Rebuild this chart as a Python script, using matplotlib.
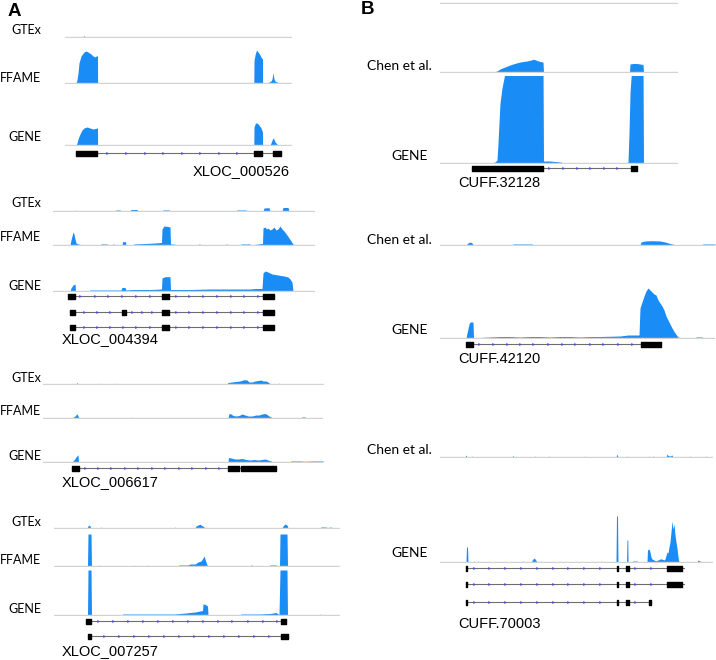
import numpy as np
import matplotlib
matplotlib.use('Agg')
from matplotlib import pyplot as plt

# coverage profiles: (position, depth), position in screen units
a1_gtex = [(65,0),(83,0),(84,1.5),(85,0),(292,0)]
a1_ffame = [(76,0),(77,3),(78,10),(79,20),(81,27),(84,31),(86,32),(88,31),(91,29),(93,27),(95,26),(96,27),(97.5,27),(97.6,0),
            (253.8,0),(254,22),(255,28),(256.5,33),(258,31),(260,28),(261.5,25),(262.5,24),(262.6,0),
            (268,0),(269,1),(271,2),(272,4),(273,10),(274,4),(275,2),(277,1),(278,0)]
a1_gene = [(76,0),(77,2),(78,6),(80,11),(82,15),(84,17),(87,18),(90,17),(93,16),(97.5,17),(97.6,0),
           (253.8,0),(254,18),(255.5,22),(257,22),(259,20),(261,17),(262.5,13),(262.6,0),
           (270,0),(271,2),(272.5,6),(273.5,7),(275,3),(277,1),(278,0)]

a2_gtex = [(53,0),(74,0),(75,1),(76,0),(115,0),(116,1),(120,1),(121,0),(130,0),(131,1.5),(137,1.5),(138,0),
           (162,0),(163,1),(169,1),(170,0),(236,0),(237,1),(246,1),(247,0),(263,0),(264,3),(269,3.3),(270,0),
           (282,0),(283,3.5),(288,3.5),(289,0),(315,0)]
a2_ffame = [(70,0),(71,5),(72,9),(73,13),(74,11),(75,6),(76,2),(78,1),(83,0),(100,0),(101,1),(107,1),(108,0),
            (112,0),(113,1),(117,0),(122,0),(122.5,3.3),(125.5,3.3),(126,0),(133,0),(134,1),(145,1.5),(155,2),
            (161.5,2.5),(162,16),(164,19),(167,18.7),(170,18),(170.5,1),(174,1),(175,0),(198,0),(199,1),(203,0),
            (225,0),(226,1),(230,0),(240,0),(241,1),(250,1),(251,0),(258,1),(262.5,1.5),(263,17),(265,18),
            (266.5,16),(268,17),(270,15),(272,16),(274,18),(276,15),(278,16),(280,19),(282,16),(284,14),
            (287,10),(289,7),(291,4),(293,1),(294,0)]
a2_gene = [(70,0),(71,3),(73,6),(75,7),(75.5,0),(89,0),(90,1),(121,1),(122,3.5),(125,3.5),(126,1),(133,1.5),
           (150,1.5),(161.5,2),(162,13),(165,14.3),(170,14.3),(170.5,1.5),(190,1.5),(210,2),(230,2),(250,2),
           (255,2.5),(262,2.5),(263,18),(265,20),(268,19),(272,17),(278,16),(284,15),(288,14),(290,12),
           (292,9),(293,0)]

a3_gtex = [(43,0),(76,0),(77,1.5),(78,0),(98,0),(98.5,1),(99,0),(114,0),(114.5,1),(115,0),(227,0),(228,1.5),
           (232,2),(236,2.5),(240,3),(244,4.3),(247,4),(249,2),(252,2),(255,3),(258,3.5),(261,4),(263,3),
           (266,3),(268,2),(270,0.5),(271,0),(278,0),(279,1),(280,0),(322,0),(323,1)]
a3_ffame = [(72,0),(75,2),(77,4.3),(78,2),(79,0),(131,0),(132,1),(133,0),(228,0),(229,4.5),(231,4),(233,2.5),
            (236,2),(239,2.5),(242,4),(245,3),(248,2),(252,2),(256,3),(259,3),(262,4),(265,4.5),(267,3.5),
            (269,2),(271,1),(272,0),(300,0),(302,1),(305,1),(306,0)]
a3_gene = [(72,0),(74,2),(76,5),(78,7.3),(78.5,0),(228,0),(228.5,4.5),(231,4),(235,3),(239,3),(242,3.5),
           (246,2.5),(250,2),(254,2.5),(258,2),(262,2.5),(265,3),(268,2),(271,1),(273,0),(290,0),(291,1),
           (300,1),(305,0.7),(312,1),(323,1)]

a4_gtex = [(54,0),(87,0),(88,2),(89,3),(90,2),(91,0),(100,0),(101,1),(102,0),(174,0),(175,1),(176,0),(195,0),
           (196,2),(198,3),(200,3.7),(202,2.5),(204,1),(205,0),(206,1),(207,0),(282,0),(283,2),(285,4),
           (287,3),(288,0),(320,0),(321,1),(325,1),(328,0.5),(331,1),(333,0)]
a4_ffame = [(87.5,0),(88,32),(91,32),(91.5,0),(99,0),(100,1),(101,0),(133,0),(134,1),(135,0),(146,0),(147,1),
            (148,0),(178,0),(179,1),(188,1),(190,2),(195,2),(198,4),(201,5),(203,8),(204,10),(205,7),(206,4),
            (207,1),(208,0),(250,0),(251,1),(255,0),(269,0),(270,1),(276,1),(277,0),(279.5,0),(280,32),
            (287,32),(287.5,0)]
a4_gene = [(87.5,0),(88,45),(91,45),(91.5,0),(122,0),(123,1),(150,1),(175,1),(180,1.5),(186,2),(190,2.5),
           (195,3),(200,4),(202.5,4.5),(203,11),(205,10.7),(207.5,9),(208,0),(240,0),(241,1),(260,1),
           (270,1.5),(276,2.5),(279,0.5),(280,45),(287,45),(287.5,0),(319,0),(320,1),(321,0)]

b1_top = [(440,0),(678,0)]
b1_chen = [(493,0),(497,1),(500,3),(505,5),(510,7),(513,8),(518,9.5),(523,10.5),(527,11),(531,12),(534,12.7),
           (537,11.5),(540,10.5),(543,10),(543.5,0),(629.5,0),(630,8),(633,8.5),(637,8.5),(640,8),(643,7.5),
           (643.5,0)]
b1_gene = [(492,0),(495,1),(497,3),(498,20),(499,40),(500,60),(502,75),(504,85),(506,95),(510,100),(543,100),
           (543.5,2),(550,2),(560,1),(566,0),(626,0),(628,1),(629,30),(630,70),(631,85),(632,95),(634,100),
           (643,100),(643.5,0)]

b2_chen = [(466,0),(468,2),(470,3),(472,2),(473,0),(512,0),(513,1),(532,1),(533,0),(640,0),(641,3),(645,4),
           (652,4.3),(660,4),(665,3),(670,1.5),(674,0.5),(676,0),(702,0),(703,1),(715,1)]
b2_gene = [(466,0),(467,5),(469,14),(470,16),(473,16),(473.5,0.5),(480,0.5),(490,1),(500,1.5),(510,1.5),
           (520,1),(530,1.5),(540,1.5),(550,1),(560,1.5),(570,1.5),(580,1),(590,1.5),(600,1.5),(620,2),
           (628,3),(635,3),(639,3),(640,30),(642,36),(644,42),(646,47),(648,50),(650,48),(652,46),(654,44),
           (656,43),(658,38),(660,35),(662,32),(664,28),(666,22),(668,18),(670,14),(672,10),(675,5),(678,1),
           (680,0),(695,0),(696,1),(702,1),(703,0)]

b3_chen = [(465,0),(466,2),(467,0),(471,0),(472,1),(473,0),(512,0),(513,1.5),(514,0),(534,0),(535,1),(536,0),
           (548,0),(549,1),(550,0),(584,0),(585,1),(586,0),(616,0),(617,3),(618,0),(626,0),(627,1),(628,0),
           (648,0),(649,1),(650,0),(652,0),(653,1),(654,0),(666,0),(667,3),(668,1.5),(670,1),(672,2),(673,0),
           (689,0),(690,1),(691,0),(705,0),(706,1),(707,0)]
b3_gene = [(466,0),(466.5,15),(467.5,15),(468,0),(473,0),(474,1),(475,0),(477,0),(478,1),(479,0),(522,0),
           (523,1),(524,0),(531,0),(533,3),(534,4),(535,3),(537,0),(540,0),(541,1),(542,0),(600,0),(601,1),
           (602,0),(616,0),(616.5,46),(617.5,46),(618,0),(626.5,0),(627,22),(627.8,22),(628,0),(632,0),
           (633,1),(637,1),(638,0),(647,0),(647.5,12),(649,13),(650,10),(651,5),(652,3),(654,2),(656,1),
           (658,2),(660,3),(662,3),(664,2),(665,3),(667,10),(668,9),(669,15),(670,20),(671,30),(672,41),
           (673,33),(674,38),(675,27),(676,20),(677,14),(678,5),(679,0),(697,0),(698,2),(700,1),(701,0)]

# transcripts: (start, end, exons, strand arrows)
a1_tx = [(76, 281, [(76,97),(254,262),(273,281)], [107,126,145,163,182,200,219,237])]
a2_tx = [(68, 274, [(68,75),(162,169),(263,274)], [80,95,108,122,136,150,176,189,203,217,231,244,258]),
         (70, 274, [(70,75),(122,126),(162,169),(263,274)], [84,97,110,132,142,152,176,189,203,217,231,244,258]),
         (70, 274, [(70,75),(162,169),(263,274)], [84,97,110,123,136,150,176,189,203,217,231,244,258])]
a3_tx = [(72, 276, [(72,79),(228,239),(241,276)], [85,98,111,125,138,152,165,179,192,206,219])]
a4_tx = [(86, 286, [(86,91),(281,286)], [98,113,128,143,158,173,188,203,218,232,248,263,277]),
         (88, 288, [(88,91),(281,288)], [104,119,134,149,164,179,194,209,224,239,254,269])]
b1_tx = [(472, 637, [(472,543),(631,637)], [549,563,577,590,604,617])]
b2_tx = [(466, 661, [(466,473),(641,661)], [479,493,507,520,533,548,562,575,590,603,618,632])]
b3_tx = [(466, 684, [(466,467),(616.5,617.5),(626,627),(628,629),(667,682)], [474,489,505,521,537,553,568,584,600,635,651]),
         (466, 684, [(466,467),(616.5,617.5),(626,627),(628,629),(667,682)], [474,489,505,521,537,553,568,584,600,635,651]),
         (466, 650, [(466,467),(616.5,617.5),(626,627),(628,629),(649,650.5)], [474,489,505,521,537,553,568,584,600,635])]

a_names = ['GTEx', 'FFAME', 'GENE']
b_names = ['Chen et al.', 'GENE']
a_ids = ['XLOC_000526', 'XLOC_004394', 'XLOC_006617', 'XLOC_007257']
b_ids = ['CUFF.32128', 'CUFF.42120', 'CUFF.70003']

W, H = 716, 660
BLUE = '#1a8cf6'
BASE = '#d2d2d2'

fig = plt.figure(figsize=(7.16, 6.6), dpi=100)

def rect(x0, y0, x1, y1):
  return [x0/W, 1 - y1/H, (x1 - x0)/W, (y1 - y0)/H]

def track(xr, base, h, prof):
  ax = fig.add_axes(rect(xr[0], base - h, xr[1], base + 1))
  p = np.array(prof, dtype=float)
  ax.fill_between(p[:, 0], 0, p[:, 1], color=BLUE, lw=0)
  ax.axhline(0, color=BASE, lw=1)
  ax.set_xlim(xr)
  ax.set_ylim(-1, h)
  ax.axis('off')

def models(xr, rows, txs):
  ax = fig.add_axes(rect(xr[0], rows[0] - 5, xr[1], rows[-1] + 5))
  for y, (s, e, exons, arrows) in zip(rows, txs):
    ax.plot([s, e], [y, y], color='#6e6e6e', lw=0.8, zorder=1)
    ax.plot(arrows, [y]*len(arrows), ls='none', marker='>', ms=1.6, mew=0.3, color='#4f4fe0', zorder=2)
    ax.broken_barh([(a, b - a) for a, b in exons], (y - 2.5, 5), color='black', zorder=3)
  ax.set_xlim(xr)
  ax.set_ylim(rows[-1] + 5, rows[0] - 5)
  ax.axis('off')

def tlabel(x, y, s, size=9):
  fig.text(x/W, 1 - y/H, s, ha='right', va='center', fontsize=size, family=['Lato', 'DejaVu Sans'])

def glabel(x, y, s):
  fig.text(x/W, 1 - y/H, s, ha='left', va='center', fontsize=10.5, family=['Liberation Sans', 'DejaVu Sans'])

# panel A
a_blocks = [
  ((65, 292), [37, 83, 145], [25, 35, 35], [a1_gtex, a1_ffame, a1_gene], [30, 78, 137], [153], a1_tx, (193, 171)),
  ((53, 315), [211, 245, 291], [20, 28, 30], [a2_gtex, a2_ffame, a2_gene], [203, 237, 286], [296, 312, 327], a2_tx, (62, 339)),
  ((43, 323), [384, 418, 462], [20, 25, 30], [a3_gtex, a3_ffame, a3_gene], [378, 411, 456], [468], a3_tx, (62, 482)),
  ((54, 340), [528, 566, 615], [20, 34, 45], [a4_gtex, a4_ffame, a4_gene], [522, 560, 609], [621, 636], a4_tx, (62, 651)),
]
for (xr, bases, hs, profs, ly, rows, tx, lab), gid in zip(a_blocks, a_ids):
  for b, h, p, y, n in zip(bases, hs, profs, ly, a_names):
    track(xr, b, h, p)
    tlabel(41, y, n)
  models(xr, rows, tx)
  glabel(lab[0], lab[1], gid)

# panel B
track((440, 678), 3, 3, b1_top)
b_blocks = [
  ((440, 678), [72, 163], [22, 87], [b1_chen, b1_gene], [66, 156], [168], b1_tx, 183),
  ((440, 715), [245, 338], [20, 55], [b2_chen, b2_gene], [240, 330], [344], b2_tx, 359),
  ((440, 713), [457, 562], [20, 50], [b3_chen, b3_gene], [450, 553], [568, 584, 602], b3_tx, 624),
]
for (xr, bases, hs, profs, ly, rows, tx, lab), gid in zip(b_blocks, b_ids):
  for b, h, p, y, n, xl in zip(bases, hs, profs, ly, b_names, [432, 428]):
    track(xr, b, h, p)
    tlabel(xl, y, n, size=10)
  models(xr, rows, tx)
  glabel(458, lab, gid)

fig.text(8/W, 1 - 11/H, 'A', fontsize=13.5, fontweight='bold', va='center', family='Liberation Sans')
fig.text(361/W, 1 - 10/H, 'B', fontsize=13.5, fontweight='bold', va='center', family='Liberation Sans')

plt.savefig('out.png', dpi=100)
